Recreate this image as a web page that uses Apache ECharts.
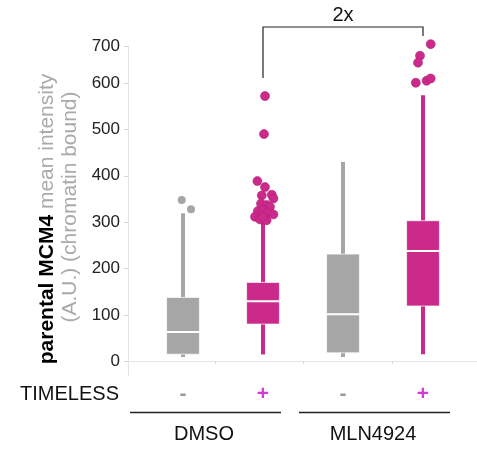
<!DOCTYPE html>
<html>
<head>
<meta charset="utf-8">
<script src="https://cdn.jsdelivr.net/npm/echarts@6/dist/echarts.min.js"></script>
<style>
html, body { margin: 0; padding: 0; background: #fff; }
#main { width: 477px; height: 449px; }
</style>
</head>
<body>
<div id="main"></div>
<script>
// ---- data ----
var groups = ['DMSO', 'MLN4924'];
var timeless = ['-', '+', '-', '+'];
var boxX = [1, 2, 3, 4];
var boxLow = [9, 14.5, 9, 15];
var boxQ1 = [15, 80, 18, 119];
var boxMedian = [63, 129.5, 101.5, 237.5];
var boxQ3 = [137.5, 170, 231, 303];
var boxHigh = [319, 308, 430, 574];

var grayOutliers = [[0.984, 347.5], [1.1, 328]];
var pinkOutliers = [
    [2.025, 572], [2.0125, 490], [1.93, 388.5], [2.025, 375.6], [1.985, 357.6],
    [2.11, 359], [2.13, 351], [1.975, 340], [2.045, 336.7], [2.0875, 333],
    [1.935, 323.8], [2.0, 326], [2.06, 321], [1.9, 311.5], [1.9625, 305.8],
    [2.045, 304], [2.13, 316.6], [2.0, 311.5],
    [4.096, 684], [3.9625, 659], [3.9375, 644], [3.91, 600.7], [4.045, 605], [4.096, 610]
];

var yTickValues = [0, 100, 200, 300, 400, 500, 600, 680];
var yTickLabels = ['0', '100', '200', '300', '400', '500', '600', '700'];
var xTickValues = [1.4, 2.5, 3.6125];

// ---- styles ----
var GRAY = '#a6a6a6';
var PINK = '#cb2a8a';
var boxColors = [GRAY, PINK, GRAY, PINK];
var FONT = '"Liberation Sans", Arial, sans-serif';

var chart = echarts.init(document.getElementById('main'));

function renderBox(params, api) {
    var x = api.value(0);
    var lo = api.coord([x, api.value(1)]);
    var q1 = api.coord([x, api.value(2)]);
    var md = api.coord([x, api.value(3)]);
    var q3 = api.coord([x, api.value(4)]);
    var hi = api.coord([x, api.value(5)]);
    var w = api.size([0.41, 0])[0];
    var c = boxColors[params.dataIndex];
    return {
        type: 'group',
        children: [
            { type: 'line', shape: { x1: lo[0], y1: lo[1], x2: hi[0], y2: hi[1] }, style: { stroke: c, lineWidth: 4 } },
            { type: 'rect', shape: { x: q3[0] - w / 2, y: q3[1], width: w, height: q1[1] - q3[1] },
              style: { fill: c, stroke: 'rgba(255,255,255,0.7)', lineWidth: 1 } },
            { type: 'line', shape: { x1: md[0] - w / 2, y1: md[1], x2: md[0] + w / 2, y2: md[1] },
              style: { stroke: '#fff', lineWidth: 2 } }
        ]
    };
}

var option = {
    animation: false,
    grid: { left: 128, right: 0, top: 46, bottom: 73 },
    xAxis: {
        type: 'value',
        min: 0.3125,
        max: 4.675,
        axisLine: { show: true, lineStyle: { color: '#e4e4e4' } },
        axisTick: { show: true, length: 3, customValues: xTickValues, lineStyle: { color: '#dcdcdc' } },
        axisLabel: { show: false },
        splitLine: { show: false }
    },
    yAxis: {
        type: 'value',
        min: -32,
        max: 680,
        axisLine: { show: true, lineStyle: { color: '#e4e4e4' } },
        axisTick: { show: true, length: 4, customValues: yTickValues, lineStyle: { color: '#d8d8d8' } },
        axisLabel: {
            customValues: yTickValues,
            color: '#222',
            fontSize: 17,
            fontFamily: FONT,
            margin: 8,
            formatter: function (v) {
                var i = yTickValues.indexOf(v);
                return i >= 0 ? yTickLabels[i] : '';
            }
        },
        splitLine: { show: false }
    },
    series: [{
        type: 'custom',
        renderItem: renderBox,
        encode: { x: 0, y: [1, 2, 3, 4, 5] },
        data: boxX.map(function (x, i) {
            return [x, boxLow[i], boxQ1[i], boxMedian[i], boxQ3[i], boxHigh[i]];
        }),
        z: 2
    }, {
        type: 'scatter',
        data: grayOutliers,
        symbolSize: 8,
        clip: false,
        itemStyle: { color: GRAY, opacity: 1 },
        z: 3
    }, {
        type: 'scatter',
        data: pinkOutliers,
        symbolSize: 9,
        clip: false,
        itemStyle: { color: PINK, opacity: 1, borderColor: '#b01f76', borderWidth: 0.6 },
        z: 3
    }]
};

chart.setOption(option);

// ---- annotations (bracket, axis title, group labels) ----
var cx = boxX.map(function (x) { return chart.convertToPixel({ gridIndex: 0 }, [x, 0])[0]; });
var graphics = [];

// bracket "2x" between DMSO + and MLN4924 +
graphics.push({
    type: 'polyline',
    shape: { points: [[cx[1], 78], [cx[1], 27], [cx[3], 27], [cx[3], 36]] },
    style: { stroke: '#222', lineWidth: 1.2, fill: null }
});
graphics.push({
    type: 'text', x: (cx[1] + cx[3]) / 2, y: 15,
    style: { text: '2x', fill: '#111', font: '20px ' + FONT, align: 'center', verticalAlign: 'middle' }
});

// y axis title, two rotated lines
graphics.push({
    type: 'text', x: 47, y: 219, rotation: Math.PI / 2,
    style: {
        text: '{b|parental MCM4}{g| mean intensity}',
        align: 'center', verticalAlign: 'middle',
        rich: {
            b: { fill: '#000', fontSize: 21, fontWeight: 'bold', fontFamily: FONT },
            g: { fill: '#aaaaaa', fontSize: 21, fontFamily: FONT }
        }
    }
});
graphics.push({
    type: 'text', x: 70, y: 207, rotation: Math.PI / 2,
    style: { text: '(A.U.) (chromatin bound)', fill: '#aaaaaa', font: '21px ' + FONT, align: 'center', verticalAlign: 'middle' }
});

// TIMELESS row
graphics.push({
    type: 'text', x: 119, y: 394,
    style: { text: 'TIMELESS', fill: '#111', font: '20px ' + FONT, align: 'right', verticalAlign: 'middle' }
});
timeless.forEach(function (s, i) {
    graphics.push({
        type: 'text', x: cx[i], y: 394,
        style: {
            text: s,
            fill: s === '+' ? '#d23cd2' : '#999',
            font: 'bold 21px ' + FONT,
            align: 'center', verticalAlign: 'middle'
        }
    });
});

// group underlines and labels
var groupLines = [[130, 281], [299, 450]];
groups.forEach(function (g, i) {
    var l = groupLines[i];
    graphics.push({
        type: 'line', shape: { x1: l[0], y1: 412.5, x2: l[1], y2: 412.5 },
        style: { stroke: '#222', lineWidth: 1.3 }
    });
    graphics.push({
        type: 'text', x: (l[0] + l[1]) / 2 - 1.5, y: 434,
        style: { text: g, fill: '#111', font: '20px ' + FONT, align: 'center', verticalAlign: 'middle' }
    });
});

chart.setOption({ graphic: graphics });
</script>
</body>
</html>
